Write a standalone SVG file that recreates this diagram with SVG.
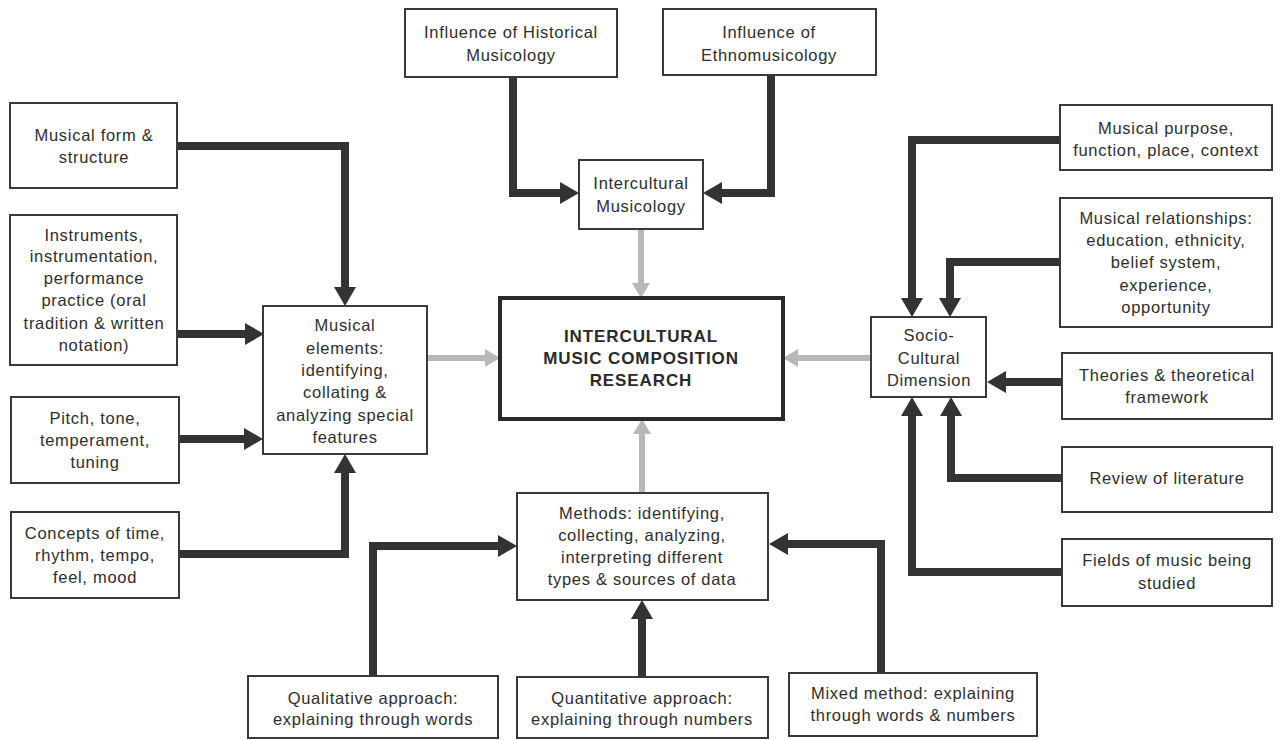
<svg xmlns="http://www.w3.org/2000/svg" width="1283" height="740" viewBox="0 0 1283 740">
<style>
.box{fill:#fff;stroke:#3a3a3a;stroke-width:2}
.main{fill:#fff;stroke:#2a2a2a;stroke-width:4}
.t{font-family:"Liberation Sans",Arial,sans-serif;font-size:16.5px;letter-spacing:0.7px;fill:#2e2e2e;text-anchor:middle}
.tb{font-family:"Liberation Sans",Arial,sans-serif;font-size:17px;font-weight:bold;letter-spacing:0.9px;fill:#2a2a2a;text-anchor:middle}
.blk{fill:none;stroke:#333;stroke-width:8;stroke-linejoin:miter}
.gry{fill:none;stroke:#b8b8b8;stroke-width:6}
</style>
<defs>
<marker id="ab" markerUnits="userSpaceOnUse" markerWidth="19" markerHeight="24" refX="0" refY="12" orient="auto"><path d="M0,1 L19,12 L0,23 z" fill="#333"/></marker>
<marker id="ag" markerUnits="userSpaceOnUse" markerWidth="15" markerHeight="20" refX="0" refY="10" orient="auto"><path d="M0,1 L15,10 L0,19 z" fill="#b8b8b8"/></marker>
</defs>
<rect width="1283" height="740" fill="#fff"/>
<g id="connectors">
<path class="blk" marker-end="url(#ab)" d="M513,77 V193 H560"/>
<path class="blk" marker-end="url(#ab)" d="M771,75 V193 H722"/>
<path class="blk" marker-end="url(#ab)" d="M177,146 H345 V287"/>
<path class="blk" marker-end="url(#ab)" d="M177,334 H245"/>
<path class="blk" marker-end="url(#ab)" d="M179,439 H244"/>
<path class="blk" marker-end="url(#ab)" d="M179,554 H345 V473"/>
<path class="blk" marker-end="url(#ab)" d="M1060,140 H912 V298"/>
<path class="blk" marker-end="url(#ab)" d="M1060,262 H950 V298"/>
<path class="blk" marker-end="url(#ab)" d="M1062,382 H1006"/>
<path class="blk" marker-end="url(#ab)" d="M1062,478 H951 V416"/>
<path class="blk" marker-end="url(#ab)" d="M1062,572 H912 V416"/>
<path class="blk" marker-end="url(#ab)" d="M373,676 V546 H498"/>
<path class="blk" marker-end="url(#ab)" d="M642,677 V619"/>
<path class="blk" marker-end="url(#ab)" d="M881,674 V544 H788"/>
<path class="gry" marker-end="url(#ag)" d="M641,229 V283"/>
<path class="gry" marker-end="url(#ag)" d="M428,358 H485"/>
<path class="gry" marker-end="url(#ag)" d="M871,358 H798"/>
<path class="gry" marker-end="url(#ag)" d="M642,493 V434"/>
</g>
<g id="hist"><rect class="box" x="405" y="9" width="212" height="68"/><text class="t" x="511" y="38">Influence of Historical</text><text class="t" x="511" y="61">Musicology</text></g>
<g id="ethno"><rect class="box" x="663" y="9" width="213" height="66"/><text class="t" x="769" y="38">Influence of</text><text class="t" x="769" y="61">Ethnomusicology</text></g>
<g id="intercultural"><rect class="box" x="579" y="160" width="124" height="69"/><text class="t" x="641" y="189">Intercultural</text><text class="t" x="641" y="212">Musicology</text></g>
<g id="central"><rect class="main" x="500" y="298" width="283" height="121"/><text class="tb" x="641" y="342">INTERCULTURAL</text><text class="tb" x="641" y="364">MUSIC COMPOSITION</text><text class="tb" x="641" y="386">RESEARCH</text></g>
<g id="form"><rect class="box" x="10" y="103" width="167" height="85"/><text class="t" x="94" y="141">Musical form &amp;</text><text class="t" x="94" y="163">structure</text></g>
<g id="instruments"><rect class="box" x="10" y="215" width="167" height="150"/><text class="t" x="94" y="241">Instruments,</text><text class="t" x="94" y="262">instrumentation,</text><text class="t" x="94" y="284">performance</text><text class="t" x="94" y="306">practice (oral</text><text class="t" x="94" y="329">tradition &amp; written</text><text class="t" x="94" y="351">notation)</text></g>
<g id="pitch"><rect class="box" x="11" y="397" width="168" height="86"/><text class="t" x="95" y="424">Pitch, tone,</text><text class="t" x="95" y="446">temperament,</text><text class="t" x="95" y="468">tuning</text></g>
<g id="concepts"><rect class="box" x="11" y="512" width="168" height="86"/><text class="t" x="95" y="539">Concepts of time,</text><text class="t" x="95" y="561">rhythm, tempo,</text><text class="t" x="95" y="583">feel, mood</text></g>
<g id="elements"><rect class="box" x="263" y="306" width="164" height="148"/><text class="t" x="345" y="331">Musical</text><text class="t" x="345" y="354">elements:</text><text class="t" x="345" y="376">identifying,</text><text class="t" x="345" y="398">collating &amp;</text><text class="t" x="345" y="421">analyzing special</text><text class="t" x="345" y="443">features</text></g>
<g id="purpose"><rect class="box" x="1060" y="105" width="212" height="65"/><text class="t" x="1166" y="134">Musical purpose,</text><text class="t" x="1166" y="156">function, place, context</text></g>
<g id="relationships"><rect class="box" x="1060" y="198" width="212" height="129"/><text class="t" x="1166" y="224">Musical relationships:</text><text class="t" x="1166" y="246">education, ethnicity,</text><text class="t" x="1166" y="268">belief system,</text><text class="t" x="1166" y="291">experience,</text><text class="t" x="1166" y="313">opportunity</text></g>
<g id="socio"><rect class="box" x="871" y="317" width="115" height="80"/><text class="t" x="929" y="341">Socio-</text><text class="t" x="929" y="364">Cultural</text><text class="t" x="929" y="386">Dimension</text></g>
<g id="theories"><rect class="box" x="1062" y="353" width="210" height="66"/><text class="t" x="1167" y="381">Theories &amp; theoretical</text><text class="t" x="1167" y="403">framework</text></g>
<g id="review"><rect class="box" x="1062" y="447" width="210" height="65"/><text class="t" x="1167" y="484">Review of literature</text></g>
<g id="fields"><rect class="box" x="1062" y="539" width="210" height="67"/><text class="t" x="1167" y="566">Fields of music being</text><text class="t" x="1167" y="589">studied</text></g>
<g id="methods"><rect class="box" x="517" y="493" width="251" height="107"/><text class="t" x="642" y="519">Methods: identifying,</text><text class="t" x="642" y="541">collecting, analyzing,</text><text class="t" x="642" y="563">interpreting different</text><text class="t" x="642" y="585">types &amp; sources of data</text></g>
<g id="qualitative"><rect class="box" x="248" y="676" width="250" height="62"/><text class="t" x="373" y="704">Qualitative approach:</text><text class="t" x="373" y="725">explaining through words</text></g>
<g id="quantitative"><rect class="box" x="517" y="677" width="251" height="61"/><text class="t" x="642" y="704">Quantitative approach:</text><text class="t" x="642" y="725">explaining through numbers</text></g>
<g id="mixed"><rect class="box" x="789" y="673" width="248" height="63"/><text class="t" x="913" y="699">Mixed method: explaining</text><text class="t" x="913" y="721">through words &amp; numbers</text></g>
</svg>
